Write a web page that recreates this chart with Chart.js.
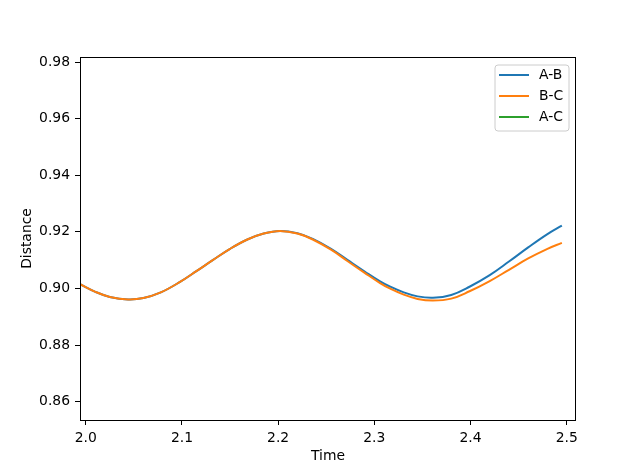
<!DOCTYPE html>
<html>
<head>
<meta charset="utf-8">
<script src="https://cdn.jsdelivr.net/npm/chart.js@4.4.1/dist/chart.umd.min.js"></script>
<style>
  html, body { margin: 0; padding: 0; background: #fff; }
  #wrap { width: 640px; height: 472px; }
</style>
</head>
<body>
<div id="wrap"><canvas id="distChart" width="640" height="472"></canvas></div>
<script>
// values
const times = [1.994, 2.010, 2.025, 2.044, 2.060, 2.078, 2.098, 2.115, 2.132, 2.150,
  2.168, 2.185, 2.202, 2.220, 2.236, 2.255, 2.272, 2.290, 2.306, 2.316,
  2.330, 2.345, 2.361, 2.380, 2.399, 2.420, 2.440, 2.460, 2.480, 2.495];
const abDistance = [0.9015, 0.8988, 0.8970, 0.8961, 0.8966, 0.8986, 0.9023, 0.9061, 0.9100, 0.9140,
  0.9173, 0.9194, 0.9203, 0.9195, 0.9175, 0.9140, 0.9101, 0.9060, 0.9025, 0.9007,
  0.8987, 0.8972, 0.8967, 0.8977, 0.9006, 0.9047, 0.9095, 0.9145, 0.9192, 0.9222];
const bcDistance = [0.9015, 0.8988, 0.8970, 0.8961, 0.8966, 0.8986, 0.9023, 0.9061, 0.9100, 0.9140,
  0.9173, 0.9194, 0.9203, 0.9194, 0.9173, 0.9137, 0.9097, 0.9055, 0.9019, 0.9000,
  0.8979, 0.8963, 0.8957, 0.8964, 0.8990, 0.9026, 0.9066, 0.9106, 0.9140, 0.9161];
const acDistance = [];

const seriesLabels = ["A-B", "B-C", "A-C"];
const seriesColors = ["#1f77b4", "#ff7f0e", "#2ca02c"];
const xTicks = [2.0, 2.1, 2.2, 2.3, 2.4, 2.5];
const yTicks = [0.86, 0.88, 0.90, 0.92, 0.94, 0.96, 0.98];

const FONT = "DejaVu Sans";

function toPoints(ys) {
  return ys.map((y, i) => ({ x: times[i], y: y }));
}

// frame on all four sides + matplotlib style legend box
const frameAndLegend = {
  id: "frameAndLegend",
  afterDatasetsDraw(chart) {
    const ctx = chart.ctx;
    const a = chart.chartArea;
    ctx.save();
    ctx.strokeStyle = "#000";
    ctx.lineWidth = 1;
    ctx.strokeRect(Math.round(a.left) + 0.5, Math.round(a.top) + 0.5,
      Math.round(a.right - a.left) - 1, Math.round(a.bottom - a.top));

    // legend
    const bx = 495, by = 65, bw = 74, bh = 66, r = 3;
    ctx.beginPath();
    ctx.moveTo(bx + r, by);
    ctx.arcTo(bx + bw, by, bx + bw, by + bh, r);
    ctx.arcTo(bx + bw, by + bh, bx, by + bh, r);
    ctx.arcTo(bx, by + bh, bx, by, r);
    ctx.arcTo(bx, by, bx + bw, by, r);
    ctx.closePath();
    ctx.fillStyle = "rgba(255,255,255,0.8)";
    ctx.fill();
    ctx.strokeStyle = "#cccccc";
    ctx.lineWidth = 1;
    ctx.stroke();

    ctx.font = "13.9px '" + FONT + "'";
    ctx.textBaseline = "middle";
    ctx.textAlign = "left";
    chart.data.datasets.forEach((ds, i) => {
      const y = 75 + i * 21;
      ctx.strokeStyle = ds.borderColor;
      ctx.lineWidth = 2;
      ctx.beginPath();
      ctx.moveTo(499, y);
      ctx.lineTo(529, y);
      ctx.stroke();
      ctx.fillStyle = "#000";
      ctx.fillText(ds.label, 539, y);
    });
    ctx.restore();
  }
};

const ctx = document.getElementById("distChart").getContext("2d");
const distChart = new Chart(ctx, {
  type: "line",
  data: {
    datasets: [abDistance, bcDistance, acDistance].map((ys, i) => ({
      label: seriesLabels[i],
      data: toPoints(ys),
      borderColor: seriesColors[i],
      backgroundColor: seriesColors[i],
      borderWidth: 2,
      pointRadius: 0,
      fill: false,
      tension: 0.4,
      order: 2 - i, // later series on top, like matplotlib
    })),
  },
  options: {
    responsive: false,
    animation: false,
    layout: { padding: { top: 57, right: 64, left: 0, bottom: 0 } },
    plugins: {
      legend: { display: false },
      tooltip: { enabled: false },
    },
    scales: {
      x: {
        type: "linear",
        min: 1.994,
        max: 2.5097,
        afterFit(scale) { scale.height = 52; },
        afterBuildTicks(scale) { scale.ticks = xTicks.map(v => ({ value: v })); },
        grid: { display: true, drawOnChartArea: false, tickLength: 5, tickColor: "#000", tickWidth: 1 },
        border: { display: false },
        ticks: {
          padding: 5,
          color: "#000",
          font: { family: FONT, size: 13.9 },
          maxRotation: 0,
          callback: v => v.toFixed(1),
        },
        title: {
          display: true,
          text: "Time",
          color: "#000",
          font: { family: FONT, size: 13.9 },
          padding: { top: 0, bottom: 7 },
        },
      },
      y: {
        type: "linear",
        min: 0.8535,
        max: 0.9818,
        afterFit(scale) { scale.width = 80; },
        afterBuildTicks(scale) { scale.ticks = yTicks.map(v => ({ value: v })); },
        grid: { display: true, drawOnChartArea: false, tickLength: 5, tickColor: "#000", tickWidth: 1 },
        border: { display: false },
        ticks: {
          padding: 5,
          color: "#000",
          font: { family: FONT, size: 13.9 },
          callback: v => v.toFixed(2),
        },
        title: {
          display: true,
          text: "Distance",
          color: "#000",
          font: { family: FONT, size: 13.9 },
          padding: { top: 19, bottom: 0 },
        },
      },
    },
  },
  plugins: [frameAndLegend],
});
</script>
</body>
</html>
